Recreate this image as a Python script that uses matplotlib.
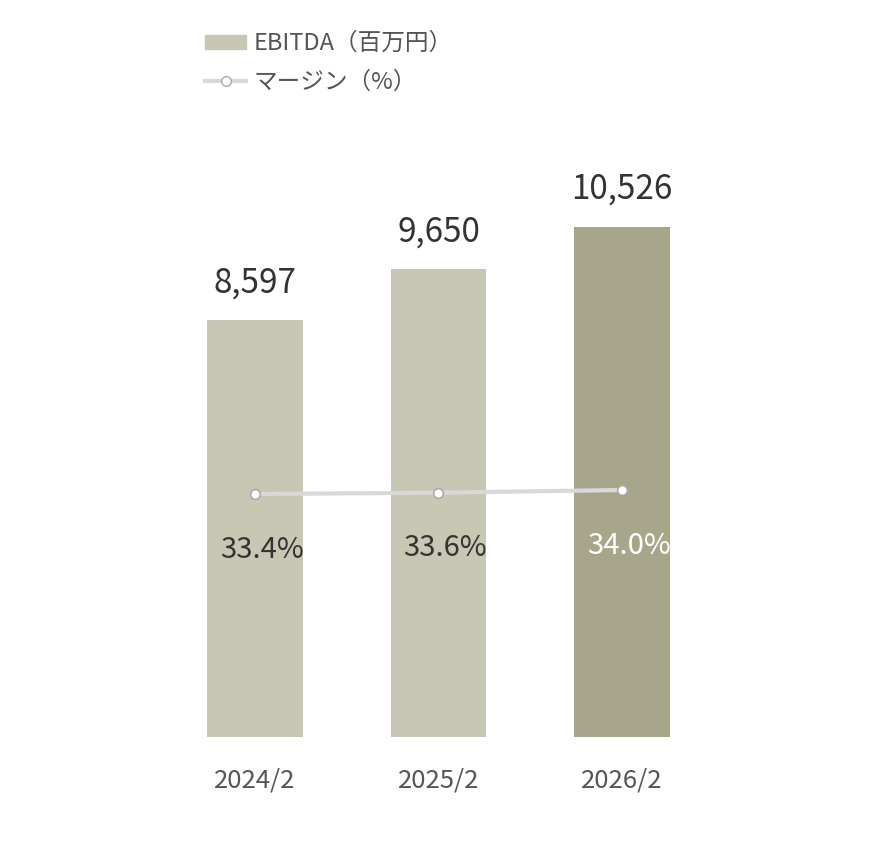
import matplotlib.pyplot as plt
from matplotlib.patches import Patch
from matplotlib.lines import Line2D

plt.rcParams['font.family'] = ['Noto Sans CJK JP', 'DejaVu Sans']

# data
years = ['2024/2', '2025/2', '2026/2']
ebitda = [8597, 9650, 10526]
margin = [33.4, 33.6, 34.0]
bar_colors = ['#c7c7b3', '#c7c7b3', '#a7a68a']
pct_colors = ['#333333', '#333333', '#ffffff']

fig = plt.figure(figsize=(8.7, 8.43), dpi=100)
ax = fig.add_axes([0, 1 - 737 / 843, 1, 637 / 843])
x = list(range(len(years)))

ax.bar(x, ebitda, width=0.523, color=bar_colors, zorder=1)
ax.set_xlim(-255 / 183.5, (870 - 255) / 183.5)
ax.set_ylim(0, 637 * 20.64)

for xi, v in zip(x, ebitda):
    ax.annotate(f'{v:,}', (xi, v), xytext=(0, 27), textcoords='offset points',
                ha='center', va='center', fontsize=24, color='#333333')

ax2 = ax.twinx()
ax2.set_ylim(-3.03, -3.03 + 637 / 6.67)
ax2.plot(x, margin, color='#d9d9d9', lw=3, marker='o', markersize=7,
         markerfacecolor='white', markeredgecolor='#aaaaaa', markeredgewidth=1.2, zorder=3)
for xi, m, c in zip(x, margin, pct_colors):
    ax2.annotate(f'{m:.1f}%', (xi, m), xytext=(5, -40), textcoords='offset points',
                 ha='center', va='center', fontsize=21, color=c)

for a in (ax, ax2):
    for s in a.spines.values():
        s.set_visible(False)
    a.set_yticks([])
ax.set_xticks(x)
ax.set_xticklabels(years, fontsize=18.5, color='#555555')
ax.tick_params(axis='x', length=0, pad=22)

handles = [Patch(color='#c7c7b3'),
           Line2D([], [], color='#d9d9d9', lw=3, marker='o', markersize=7,
                  markerfacecolor='white', markeredgecolor='#aaaaaa')]
fig.legend(handles, ['EBITDA（百万円）', 'マージン（%）'], loc='upper left',
           bbox_to_anchor=(205 / 870, 1 - 32 / 843), frameon=False, fontsize=17,
           labelcolor='#555555', handlelength=1.75, handleheight=0.55,
           handletextpad=0.3, labelspacing=0.66, borderpad=0, borderaxespad=0)

fig.savefig('out.png', dpi=100)
